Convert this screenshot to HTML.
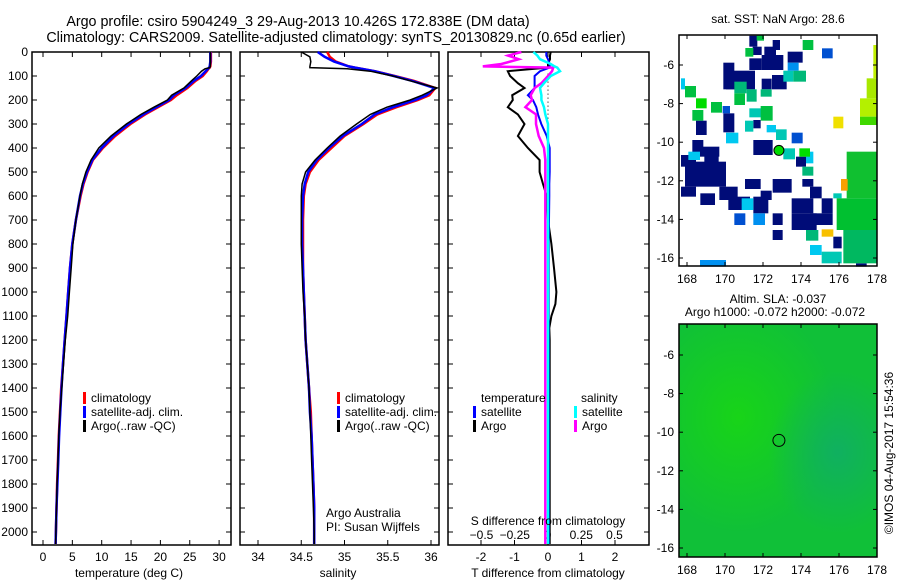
<!DOCTYPE html>
<html><head><meta charset="utf-8">
<style>
html,body{margin:0;padding:0;background:#fff;}
svg{display:block;font-family:"Liberation Sans",sans-serif;}
</style></head>
<body>
<svg id="fig" width="900" height="580" viewBox="0 0 900 580" xmlns="http://www.w3.org/2000/svg">
<rect width="900" height="580" fill="#fff"/>
<text x="298" y="26" font-size="14.3" text-anchor="middle">Argo profile: csiro 5904249_3 29-Aug-2013 10.426S 172.838E (DM data)</text>
<text x="336" y="42" font-size="14.3" text-anchor="middle">Climatology: CARS2009. Satellite-adjusted climatology: synTS_20130829.nc (0.65d earlier)</text>
<g id="g1"></g>
<g id="g2"></g>
<g id="g3"></g>
<g id="g4"></g>
<g id="g5"></g>
<text transform="translate(893,453) rotate(-90)" font-size="12" text-anchor="middle">©IMOS 04-Aug-2017 15:54:36</text>
</svg>
<script>
// ---- profile data ----
const depths = [0,20,40,60,65,70,80,100,120,150,180,200,230,260,300,350,400,450,500,550,600,700,800,900,1000,1100,1200,1300,1400,1500,1600,1700,1800,1900,2000,2050];
const tempClim = [28.6,28.6,28.6,28.5,28.4,28.2,27.9,27.2,26.0,24.6,22.8,21.8,19.6,17.4,14.9,12.3,10.2,8.5,7.6,6.9,6.4,5.6,5.0,4.6,4.3,4.0,3.7,3.4,3.1,2.9,2.7,2.55,2.4,2.3,2.2,2.15];
const tempSat = [28.5,28.5,28.5,28.4,28.3,28.1,27.7,26.9,25.7,24.3,22.3,21.5,19.3,17.1,14.6,12.0,10.0,8.4,7.5,6.8,6.3,5.6,5.0,4.6,4.3,4.0,3.7,3.4,3.15,2.95,2.75,2.6,2.45,2.3,2.2,2.15];
const tempArgo = [28.5,28.5,28.5,28.5,28.4,27.6,27.0,26.2,25.3,24.0,21.9,21.2,18.9,16.7,14.2,11.6,9.5,8.2,7.3,6.7,6.3,5.6,5.1,4.8,4.5,4.2,3.8,3.5,3.2,2.9,2.7,2.55,2.4,2.3,2.2,2.15];
const salClim = [34.80,34.83,34.9,35.05,35.12,35.2,35.35,35.58,35.8,36.05,35.98,35.85,35.6,35.38,35.22,35.0,34.85,34.7,34.6,34.55,34.53,34.52,34.52,34.52,34.53,34.54,34.55,34.57,34.59,34.61,34.62,34.63,34.64,34.65,34.65,34.65];
const salSat = [34.69,34.77,34.88,35.05,35.12,35.2,35.35,35.57,35.78,36.04,35.95,35.82,35.56,35.35,35.2,34.98,34.82,34.68,34.58,34.54,34.52,34.51,34.51,34.52,34.53,34.54,34.55,34.57,34.59,34.6,34.62,34.63,34.64,34.65,34.65,34.65];
const salArgo = [34.50,34.60,34.61,34.60,34.60,35.03,35.3,35.56,35.76,36.07,35.9,35.76,35.49,35.3,35.14,34.95,34.8,34.66,34.55,34.51,34.50,34.50,34.50,34.51,34.52,34.54,34.55,34.57,34.59,34.60,34.61,34.62,34.63,34.64,34.65,34.65];
// ---- difference data ----
const diffDepths = [0,15,30,50,60,65,80,100,130,150,180,200,230,260,300,350,400,450,500,550,600,700,800,900,1000,1050,1100,1150,1200,1500,2000,2050];
const tDiffSat = [-0.05,-0.05,0.0,0.05,0.05,0.05,-0.24,-0.4,-0.4,-0.4,-0.6,-0.45,-0.35,-0.3,-0.2,-0.04,0.05,0.05,0.05,0.04,0.04,0.03,0.02,0.02,0.02,0.02,0.02,0.02,0.02,0.02,0.02,0.02];
const tDiffArgo = [0.08,0.06,0.06,0.0,0.0,0.0,-1.2,-1.13,-0.9,-0.7,-1.07,-1.05,-1.2,-0.9,-0.7,-0.9,-0.6,-0.25,-0.25,-0.15,-0.04,0.0,0.1,0.18,0.25,0.22,0.1,0.04,0.05,0.05,0.05,0.05];
const sDiffSat = [-0.11,-0.08,-0.06,0.02,0.05,0.07,0.09,0.02,-0.03,-0.06,-0.05,-0.05,-0.03,-0.02,0.0,0.0,0.0,0.0,0.0,0.0,0.0,0.0,0.0,0.0,0.0,0.0,0.0,0.0,0.0,0.0,0.0,0.0];
const sDiffArgo = [-0.2,-0.3,-0.22,-0.35,-0.49,0.04,0.03,0.0,-0.05,-0.1,-0.13,-0.12,-0.17,-0.09,-0.09,-0.07,-0.03,-0.02,-0.02,-0.02,-0.02,-0.02,-0.02,-0.02,-0.02,-0.02,-0.02,-0.02,-0.02,-0.02,-0.02,-0.02];
// ---- axis ticks ----
const depthTicks = [0,100,200,300,400,500,600,700,800,900,1000,1100,1200,1300,1400,1500,1600,1700,1800,1900,2000];
const tempTicks = [0,5,10,15,20,25,30];
const salTicks = [34,34.5,35,35.5,36];
const tdTicks = [-2,-1,0,1,2];
const sdTicks = [-0.5,-0.25,0,0.25,0.5];
const lonTicks = [168,170,172,174,176,178];
const latTicks = [-6,-8,-10,-12,-14,-16];

const NS="http://www.w3.org/2000/svg";
function el(p,tag,at){const e=document.createElementNS(NS,tag);for(const k in at)e.setAttribute(k,at[k]);p.appendChild(e);return e;}
const yD = d => 52 + d*0.24;

function frame(g,x0,x1,y0,y1){
  const r=el(g,'rect',{x:x0,y:y0,width:x1-x0,height:y1-y0,fill:'none',stroke:'#000','stroke-width':1.5});
  
  
}
function depthAxis(g,x0,x1,labels){
  depthTicks.forEach(d=>{
    const y=yD(d);
    el(g,'line',{x1:x0,x2:x0+5,y1:y,y2:y,stroke:'#000'});
    el(g,'line',{x1:x1-5,x2:x1,y1:y,y2:y,stroke:'#000'});
    if(labels){const t=el(g,'text',{x:28,y:y+4,'font-size':12,'text-anchor':'end'});t.textContent=d;
      
      }
  });
}
function xAxis(g,ticks,fx,ytop,ybot,ylab,fmt){
  ticks.forEach(v=>{
    const x=fx(v);
    el(g,'line',{x1:x,x2:x,y1:ytop,y2:ytop+5,stroke:'#000'});
    el(g,'line',{x1:x,x2:x,y1:ybot-5,y2:ybot,stroke:'#000'});
    if(ylab){const t=el(g,'text',{x:x,y:ylab,'font-size':12,'text-anchor':'middle'});t.textContent=fmt?fmt(v):v;
      
      }
  });
}
function line(g,xs,ds,fx,color,w,name){
  const pts=xs.map((v,i)=>fx(v).toFixed(1)+','+yD(ds[i]).toFixed(1)).join(' ');
  const p=el(g,'polyline',{points:pts,fill:'none',stroke:color,'stroke-width':w,'stroke-linejoin':'miter'});
  
  
}
function legend(g,x,y,items){
  items.forEach((it,i)=>{
    el(g,'rect',{x:x,y:y+i*14-10,width:3,height:12,fill:it[1]});
    const t=el(g,'text',{x:x+8,y:y+i*14,'font-size':12});t.textContent=it[0];
    
    
  });
}
function label(g,x,y,txt,name,anchor){
  const t=el(g,'text',{x:x,y:y,'font-size':12,'text-anchor':anchor||'middle'});t.textContent=txt;
  
  
}

// Panel 1: temperature
const g1=document.getElementById('g1');
const fT=v=>43+v*5.87;
frame(g1,32,231,52,545);depthAxis(g1,32,231,true);xAxis(g1,tempTicks,fT,52,545,561);
line(g1,tempClim,depths,fT,'#f00',2.5,'temp-climatology-line');
line(g1,tempSat,depths,fT,'#00f',2.5,'temp-satellite-line');
line(g1,tempArgo,depths,fT,'#000',1.5,'temp-argo-line');
legend(g1,83,402,[['climatology','#f00'],['satellite-adj. clim.','#00f'],['Argo(..raw -QC)','#000']]);
label(g1,129,577,'temperature (deg C)','x-axis-title');

// Panel 2: salinity
const g2=document.getElementById('g2');
const fS=v=>258+(v-34)*86.5;
frame(g2,240,439,52,545);depthAxis(g2,240,439,false);xAxis(g2,salTicks,fS,52,545,561);
line(g2,salClim,depths,fS,'#f00',2.5,'sal-climatology-line');
line(g2,salSat,depths,fS,'#00f',2.5,'sal-satellite-line');
line(g2,salArgo,depths,fS,'#000',1.5,'sal-argo-line');
legend(g2,337,402,[['climatology','#f00'],['satellite-adj. clim.','#00f'],['Argo(..raw -QC)','#000']]);
label(g2,326,517,'Argo Australia','credit-line-1','start');
label(g2,326,531,'PI: Susan Wijffels','credit-line-2','start');
label(g2,338,577,'salinity','x-axis-title');

// Panel 3: differences
const g3=document.getElementById('g3');
const fTD=v=>548+v*33.5, fSD=v=>548+v*133;
frame(g3,448,649,52,545);depthAxis(g3,448,649,false);
xAxis(g3,tdTicks,fTD,52,545,561);
sdTicks.forEach(v=>label(g3,fSD(v),539,v===0?'0':String(v).replace('-','\u2212'),'s-tick-label'));
el(g3,'line',{x1:548,x2:548,y1:yD(90),y2:yD(420),stroke:'#000','stroke-dasharray':'1,3'});
line(g3,tDiffArgo,diffDepths,fTD,'#000',2,'t-diff-argo-line');
line(g3,tDiffSat,diffDepths,fTD,'#00f',2,'t-diff-satellite-line');
line(g3,sDiffArgo,diffDepths,fSD,'#f0f',2.5,'s-diff-argo-line');
line(g3,sDiffSat,diffDepths,fSD,'#0ff',2.5,'s-diff-satellite-line');
label(g3,481,402,'temperature','legend-header-temp','start');
legend(g3,473,416,[['satellite','#00f'],['Argo','#000']]);
label(g3,581,402,'salinity','legend-header-sal','start');
legend(g3,574,416,[['satellite','#0ff'],['Argo','#f0f']]);
label(g3,548,525,'S difference from climatology','s-axis-title');
label(g3,548,577,'T difference from climatology','t-axis-title');

// Maps
const fLon=v=>687+(v-168)*19;
function mapAxes(g,y0,y1,latToY){
  frame(g,679,877,y0,y1);
  lonTicks.forEach(v=>{const x=fLon(v);
    el(g,'line',{x1:x,x2:x,y1:y0,y2:y0+4,stroke:'#000'});el(g,'line',{x1:x,x2:x,y1:y1-4,y2:y1,stroke:'#000'});
    label(g,x,y1+17,String(v),'lon-tick-label');});
  latTicks.forEach(v=>{const y=latToY(v);
    el(g,'line',{x1:679,x2:683,y1:y,y2:y,stroke:'#000'});el(g,'line',{x1:873,x2:877,y1:y,y2:y,stroke:'#000'});
    label(g,674,y+4,String(v),'lat-tick-label','end');});
}
const g4=document.getElementById('g4');
const lat1=v=>65+(-6-v)*19.3;
el(g4,'rect',{x:679,y:35,width:198,height:231,fill:'#fff'});
const N='#000c78',C='#00c8f0',CG='#00c8b4',TG='#00b878',G='#00c040',BG='#00dc00',B='#0050d0',MB='#0090f0';
const cells=[[328,107,352,140,N],[338,140,365,165,N],[373,140,408,185,N],[398,120,420,150,N],[328,175,365,210,N],[365,165,430,210,N],[443,155,488,188,N],[250,188,283,225,N],[258,212,345,268,N],[396,225,440,268,N],[250,225,285,268,N],[365,236,395,268,N],[168,362,200,405,N],[250,340,283,397,N],[340,360,362,385,N],[157,420,190,465,N],[176,440,238,470,N],[340,420,398,465,N],[123,465,168,500,N],[193,456,236,500,N],[135,485,258,560,N],[123,560,168,590,N],[315,537,362,567,N],[398,537,455,578,N],[362,572,395,600,N],[238,560,293,600,N],[265,590,330,630,N],[181,580,225,615,N],[340,590,385,640,N],[398,640,428,675,N],[455,595,520,640,N],[455,640,530,690,N],[510,560,545,595,N],[510,640,578,675,N],[545,595,578,640,N],[580,710,605,745,N],[398,690,428,720,N],[648,790,680,800,N],[487,537,520,560,N],[468,470,498,500,N],
[258,398,295,430,C],[380,375,408,397,C],[305,595,340,630,C],[510,735,545,765,C],[123,235,135,268,C],[145,455,180,480,C],[498,455,520,490,C],[180,780,258,800,MB],
[328,325,365,352,CG],[430,212,460,245,CG],[430,445,465,478,CG],[408,388,440,420,CG],[315,362,340,395,CG],[545,755,605,790,CG],[580,580,605,595,CG],
[283,245,320,280,TG],[320,268,350,305,TG],[362,268,395,290,TG],[460,212,498,245,TG],[498,690,535,722,TG],[487,500,520,527,TG],
[135,258,168,292,G],[157,330,190,362,G],[213,306,246,338,G],[283,280,315,315,G],[362,318,398,362,G],[488,120,520,150,G],[316,144,340,170,G],[350,105,372,122,G],
[168,295,200,325,BG],[478,445,510,470,BG],[546,145,578,175,B],[455,398,488,430,B],[283,640,316,675,B],[248,318,270,340,B],[443,188,476,212,MB],[340,640,375,675,MB],
[620,455,712,595,'#10c030'],[590,595,712,690,'#00c030'],[610,690,712,790,'#00b860'],[660,295,712,350,'#b4f000'],[680,235,712,295,'#a8e800'],[700,135,712,235,'#c0f000'],[660,350,712,375,'#40d800'],[580,350,610,385,'#f0e000'],[603,537,623,572,'#f8a000'],[545,688,580,710,'#f8c000']];
cells.forEach(c=>{const r=el(g4,'rect',{x:640+c[0]/3,y:c[1]/3,width:(c[2]-c[0])/3,height:(c[3]-c[1])/3,fill:c[4]});
  
  });
el(g4,'circle',{cx:fLon(172.838),cy:lat1(-10.426),r:5,fill:'#00dc00',stroke:'#000'});
mapAxes(g4,35,266,lat1);
label(g4,778,23,'sat. SST: NaN Argo: 28.6','sst-map-title');

const g5=document.getElementById('g5');
const lat2=v=>355+(-6-v)*19.3;
const defs=el(g5,'defs',{});
const rg=el(defs,'radialGradient',{id:'rg1',cx:'0.3',cy:'0.4',r:'0.5'});
el(rg,'stop',{offset:'0','stop-color':'#18d418'});el(rg,'stop',{offset:'1','stop-color':'#18d418','stop-opacity':'0'});
const rg2=el(defs,'radialGradient',{id:'rg2',cx:'0.8',cy:'0.55',r:'0.35'});
el(rg2,'stop',{offset:'0','stop-color':'#10b060'});el(rg2,'stop',{offset:'1','stop-color':'#10b060','stop-opacity':'0'});
el(g5,'rect',{x:679,y:324,width:198,height:233,fill:'#10c038'});
el(g5,'rect',{x:679,y:324,width:198,height:233,fill:'url(#rg1)'});
el(g5,'rect',{x:679,y:324,width:198,height:233,fill:'url(#rg2)'});
el(g5,'circle',{cx:fLon(172.838),cy:lat2(-10.426),r:6,fill:'none',stroke:'#000'});
mapAxes(g5,324,557,lat2);
label(g5,778,303,'Altim. SLA: -0.037','sla-map-title');
label(g5,775,316,'Argo h1000: -0.072 h2000: -0.072','sla-map-subtitle');
</script>
</body></html>
